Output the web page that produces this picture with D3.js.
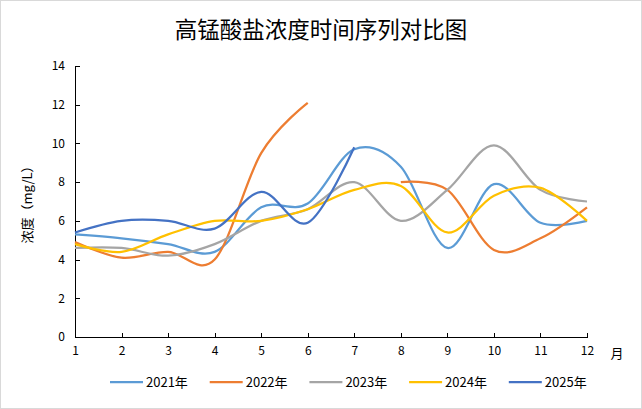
<!DOCTYPE html>
<html lang="zh">
<head>
    <meta charset="UTF-8">
    <title>高锰酸盐浓度时间序列对比图</title>
    <script src="https://cdnjs.cloudflare.com/ajax/libs/d3/7.8.5/d3.min.js"></script>
    <style>
        body { margin: 0; background: #fff; }
        .chart text { font-family: "Noto Sans CJK SC", "Noto Sans", sans-serif; fill: #404040; }
        .axis path, .axis line { stroke: #000; shape-rendering: crispEdges; }
        .axis text { font-size: 12px; fill: #000; }
        .line { fill: none; stroke-width: 2.25; }
    </style>
</head>
<body>
    <svg class="chart"></svg>
    <script>
        const months = [1, 2, 3, 4, 5, 6, 7, 8, 9, 10, 11, 12];
        const years = ['2021年', '2022年', '2023年', '2024年', '2025年'];
        const colors = ['#5B9BD5', '#ED7D31', '#A5A5A5', '#FFC000', '#4472C4'];
        const yTicks = [0, 2, 4, 6, 8, 10, 12, 14];

        // null = no value that month
        const v2021 = [5.3, 5.1, 4.8, 4.4, 6.7, 6.9, 9.7, 8.8, 4.6, 7.9, 5.9, 6.0];
        const v2022 = [4.9, 4.1, 4.4, 4.0, 9.5, 12.1, null, 8.0, 7.6, 4.5, 5.1, 6.7];
        const v2023 = [4.6, 4.6, 4.2, 4.8, 6.0, 6.6, 8.0, 6.0, 7.6, 9.9, 7.6, 7.0];
        const v2024 = [4.8, 4.4, 5.3, 6.0, 6.0, 6.6, 7.6, 7.8, 5.4, 7.3, 7.7, 6.0];
        const v2025 = [5.4, 6.0, 6.0, 5.6, 7.5, 5.9, 9.8, null, null, null, null, null];
        const series = [v2021, v2022, v2023, v2024, v2025];

        const W = 642, H = 409;
        const margin = {top: 66, right: 55, bottom: 72, left: 75};
        const width = W - margin.left - margin.right,
            height = H - margin.top - margin.bottom;

        const svg = d3.select('.chart')
            .attr('width', W)
            .attr('height', H);

        svg.append('rect')
            .attr('x', 0.5).attr('y', 0.5)
            .attr('width', W - 1).attr('height', H - 1)
            .attr('fill', '#fff')
            .attr('stroke', '#D9D9D9');

        svg.append('text')
            .attr('x', W / 2)
            .attr('y', 38)
            .attr('text-anchor', 'middle')
            .style('font-size', '22.5px')
            .style('fill', '#000')
            .text('高锰酸盐浓度时间序列对比图');

        const chart = svg.append('g')
            .attr('transform', `translate(${margin.left}, ${margin.top})`);

        //scale
        const x = d3.scaleLinear()
            .domain([1, 12])
            .range([0, width]);

        const y = d3.scaleLinear()
            .domain([0, 14])
            .range([height, 0]);

        //axis
        chart.append('g')
            .attr('class', 'x axis')
            .attr('transform', `translate(0, ${height})`)
            .call(d3.axisBottom(x).tickValues(months).tickFormat(d3.format('d'))
                .tickSizeInner(-4).tickSizeOuter(0).tickPadding(9));

        chart.append('g')
            .attr('class', 'y axis')
            .call(d3.axisLeft(y).tickValues(yTicks)
                .tickSizeInner(-5).tickSizeOuter(0).tickPadding(10));

        chart.selectAll('.axis path').attr('stroke-width', 1.5);

        chart.append('text')
            .attr('x', width + 30)
            .attr('y', height + 21)
            .attr('text-anchor', 'middle')
            .style('font-size', '13px')
            .style('fill', '#000')
            .text('月');

        chart.append('text')
            .attr('transform', `translate(${-43}, ${height / 2}) rotate(-90)`)
            .attr('text-anchor', 'middle')
            .style('font-size', '13px')
            .style('fill', '#000')
            .text('浓度（mg/L）');

        const line = d3.line()
            .defined(d => d != null)
            .x((d, i) => x(months[i]))
            .y(d => y(d))
            .curve(d3.curveCardinal.tension(0));

        chart.selectAll('.line')
            .data(series)
            .enter().append('path')
            .attr('class', 'line')
            .attr('stroke', (d, i) => colors[i])
            .attr('d', line);

        // legend
        const legend = svg.append('g')
            .attr('transform', `translate(110, 382)`);

        const item = legend.selectAll('g')
            .data(years)
            .enter().append('g')
            .attr('transform', (d, i) => `translate(${i * 99.7}, 0)`);

        item.append('line')
            .attr('x1', 0).attr('x2', 33)
            .attr('stroke', (d, i) => colors[i])
            .attr('stroke-width', 2.25);

        item.append('text')
            .attr('x', 36)
            .attr('dy', '0.35em')
            .style('font-size', '13px')
            .style('fill', '#000')
            .text(d => d);
    </script>
</body>
</html>
